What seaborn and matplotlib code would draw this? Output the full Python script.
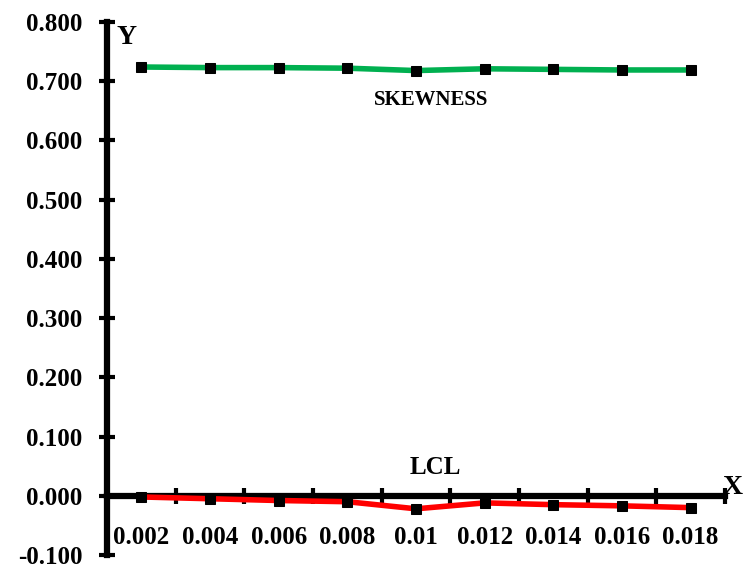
import numpy as np
import pandas as pd
import matplotlib
matplotlib.use("Agg")
import matplotlib.pyplot as plt
import seaborn as sns

# Categories along the X axis and the two series
x_labels = ["0.002", "0.004", "0.006", "0.008", "0.01", "0.012", "0.014", "0.016", "0.018"]
skewness = [0.724, 0.723, 0.723, 0.722, 0.718, 0.721, 0.720, 0.719, 0.719]
lcl = [-0.002, -0.005, -0.008, -0.010, -0.022, -0.012, -0.015, -0.017, -0.020]
y_ticks = [-0.1, 0.0, 0.1, 0.2, 0.3, 0.4, 0.5, 0.6, 0.7, 0.8]

sns.set_style("ticks", {"axes.edgecolor": "black", "xtick.color": "black",
                        "ytick.color": "black", "text.color": "black",
                        "axes.labelcolor": "black"})
plt.rcParams["font.family"] = ["Liberation Serif", "DejaVu Serif"]
plt.rcParams["font.weight"] = "bold"

pos = np.arange(len(x_labels))
df = pd.DataFrame({"pos": np.concatenate([pos, pos]),
                   "value": skewness + lcl,
                   "series": ["SKEWNESS"] * len(pos) + ["LCL"] * len(pos)})

fig = plt.figure(figsize=(7.44, 5.69), dpi=100)
ax = fig.add_axes([107 / 744, 1 - 555 / 569, (725 - 107) / 744, (555 - 22) / 569])

sns.lineplot(data=df, x="pos", y="value", hue="series",
             palette={"SKEWNESS": "#00B050", "LCL": "#FF0000"},
             linewidth=4, marker="s", markersize=7,
             markerfacecolor="black", markeredgecolor="black",
             legend=False, ax=ax, zorder=3)

ax.set_xlim(-0.5, len(x_labels) - 0.5)
ax.set_ylim(-0.1, 0.8)

# Spines: Y axis on the left, X axis through zero
for s in ["top", "right"]:
    ax.spines[s].set_visible(False)
for s in ["left", "bottom"]:
    ax.spines[s].set_linewidth(4.5)
    ax.spines[s].set_color("black")
    ax.spines[s].set_zorder(2)
ax.spines["bottom"].set_position(("data", 0))

ax.set_yticks(y_ticks)
ax.set_yticklabels([f"{v:.3f}" for v in y_ticks])
ax.tick_params(axis="y", left=True, direction="inout", length=11, width=3, pad=12,
               labelsize=18, color="black", labelcolor="black")

# Major ticks at category boundaries, labels at category centres
ax.set_xticks(np.arange(-0.5, len(x_labels), 1.0))
ax.set_xticklabels([])
ax.set_xticks(pos, minor=True)
ax.set_xticklabels(x_labels, minor=True)
ax.tick_params(axis="x", which="major", bottom=True, direction="inout", length=12,
               width=3, color="black")
ax.tick_params(axis="x", which="minor", bottom=True, length=0, pad=22,
               labelsize=18, labelcolor="black")

for lab in ax.get_xticklabels(minor=True) + ax.get_yticklabels():
    lab.set_fontweight("bold")

ax.set_xlabel("")
ax.set_ylabel("")
ax.grid(False)

fig.text(127 / 744, 1 - 37 / 569, "Y", fontsize=20, fontweight="bold",
         ha="center", va="center", color="black")
fig.text(733 / 744, 1 - 487 / 569, "X", fontsize=20, fontweight="bold",
         ha="center", va="center", color="black")
ax.text(4.22, 0.668, "SKEWNESS", fontsize=15, fontweight="bold",
        ha="center", va="center", color="black")
ax.text(4.28, 0.047, "LCL", fontsize=18, fontweight="bold",
        ha="center", va="center", color="black")

fig.savefig("out.png", dpi=100)
